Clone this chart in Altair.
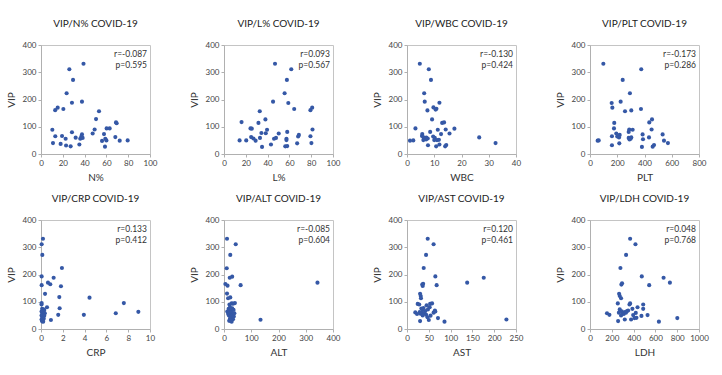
import altair as alt
import pandas as pd

BLUE = "#3558a6"
FONT = "Lato"

# ---- data (x value, VIP) ----
n_pct = [39, 26, 29.4, 23.5, 28.4, 37.6, 13, 15.3, 20.5, 53.2, 50.5, 68.8, 69.4, 10.4, 49.2, 60.2, 63, 47.4, 28.4, 37.6,
         37, 57.8, 13.1, 19.3, 22.6, 31.8, 36, 38.2, 56, 59, 60, 68.2, 72.2, 79.5, 11, 18, 23, 27.2, 35.2, 58.7]
n_vip = [331, 311, 272, 223, 188, 192, 161, 170, 165, 157, 128, 116, 113, 89, 90, 94, 94, 75, 80, 72,
         64, 73, 65, 66, 56, 60, 56, 59, 48, 56, 50, 62, 49, 50, 40, 37, 31, 28, 35, 27]

l_pct = [46.8, 61.7, 57.7, 55.6, 45, 59, 80.9, 64.4, 79.3, 32.8, 38, 16.1, 31.6, 24.3, 25.5, 81.2, 39.5, 58, 34.3, 38.3,
         50.2, 24.9, 14.3, 20.4, 27, 29, 33, 45.9, 47.7, 57.3, 57.3, 68, 68.7, 79.3, 34.9, 43.1, 56.2, 58, 67.1, 80.2]
l_vip = [331, 311, 272, 223, 192, 187, 170, 165, 161, 157, 127, 117, 114, 94, 93, 90, 89, 81, 77, 76,
         75, 62, 50, 50, 57, 49, 59, 56, 59, 56, 51, 64, 70, 65, 26, 35, 28, 29, 39, 40]

wbc = [4.7, 8.0, 8.8, 6.3, 6.5, 11.9, 9.7, 10.8, 10.5, 7.5, 9.2, 12.9, 13.6, 3.1, 17.4, 14.2, 11.3, 8.5, 5.6, 15.6,
       5.5, 6.1, 7.1, 7.6, 9.6, 10.2, 6.5, 7.0, 6.0, 10.0, 11.0, 11.7, 1.1, 2.3, 26.5, 32.5, 7.7, 10.7, 11.9, 14.0, 14.4, 12.5]
wbc_vip = [331, 311, 272, 223, 192, 188, 171, 166, 163, 160, 127, 114, 116, 94, 93, 90, 89, 81, 73, 75,
           66, 61, 60, 57, 64, 59, 57, 53, 51, 51, 51, 52, 49, 50, 61, 40, 32, 28, 35, 28, 33, 73]

plt_ = [98, 376, 240, 293, 159, 225, 164, 374, 257, 303, 455, 435, 178, 176, 288, 452, 313, 284, 193, 386,
        533, 218, 213, 161, 200, 284, 298, 303, 433, 389, 56, 64, 543, 572, 161, 215, 381, 460, 470, 290]
plt_vip = [331, 311, 272, 223, 187, 192, 170, 165, 157, 160, 127, 116, 114, 94, 90, 90, 89, 81, 75, 72,
           72, 70, 61, 65, 64, 59, 56, 61, 61, 54, 49, 50, 49, 40, 32, 39, 26, 27, 33, 53]

crp = [0.18, 0.06, 0.12, 1.92, 0.06, 1.16, 0.64, 0.85, 0.06, 1.83, 0.37, 1.68, 4.45, 0.06, 7.6, 1.71, 0.55, 1.58, 3.93,
       6.86, 8.93, 0.91, 0.05, 0.1, 0.2, 0.3, 0.15, 0.05, 0.25, 0.1, 0.35, 0.2, 0.05, 0.15, 0.3, 0.1, 0.25, 0.05, 0.15,
       0.1, 0.2]
crp_vip = [331, 311, 272, 224, 193, 188, 170, 164, 161, 157, 129, 117, 115, 95, 95, 76, 80, 52, 52,
           58, 63, 33, 90, 74, 72, 70, 66, 64, 62, 60, 58, 56, 50, 50, 49, 40, 38, 35, 30,
           28, 27]

alt_ = [11, 43, 23, 10, 30, 21, 5, 13, 61, 11, 23, 15, 343, 134, 28, 33, 20, 22, 30, 17,
        25, 35, 12, 20, 27, 38, 15, 23, 32, 18, 26, 36, 30, 22, 33, 19, 28, 25, 40]
alt_vip = [331, 311, 272, 223, 192, 188, 165, 159, 161, 130, 116, 113, 170, 34, 94, 93, 90, 80, 76, 74,
           72, 70, 64, 62, 60, 58, 56, 55, 50, 50, 48, 46, 40, 38, 36, 30, 27, 31, 95]

ast = [47.5, 61, 43.7, 38.3, 65, 176, 138, 68, 35, 36, 37, 30, 31.5, 32, 24.5, 28, 53, 57.5, 45, 38,
       19, 23, 64, 61, 65, 47, 54, 71, 30, 50, 86, 228, 33, 36, 42, 48, 52, 34, 40, 31, 44, 36, 29]
ast_vip = [331, 311, 272, 224, 193, 188, 170, 161, 163, 158, 166, 129, 121, 113, 92, 90, 92, 94, 87, 77,
           61, 55, 68, 60, 64, 43, 49, 40, 29, 33, 27, 35, 75, 70, 66, 72, 80, 60, 58, 56, 52, 50, 62]

ldh = [368, 417, 331, 279, 475, 675, 733, 543, 288, 294, 267, 273, 285, 255, 368, 362, 488, 488, 436, 156,
       178, 389, 273, 291, 420, 396, 472, 528, 632, 801, 258, 319, 408, 426, 377, 265, 300, 320, 340, 310, 285, 350, 330]
ldh_vip = [331, 311, 272, 224, 193, 188, 170, 161, 163, 168, 129, 121, 113, 94, 94, 90, 90, 74, 80, 58,
           52, 74, 72, 65, 59, 51, 48, 51, 27, 40, 29, 35, 40, 41, 35, 60, 58, 62, 66, 55, 50, 68, 60]

names = ["N%", "L%", "WBC", "PLT", "CRP", "ALT", "AST", "LDH"]
x_lists = [n_pct, l_pct, wbc, plt_, crp, alt_, ast, ldh]
vip_lists = [n_vip, l_vip, wbc_vip, plt_vip, crp_vip, alt_vip, ast_vip, ldh_vip]
x_max = [100, 100, 40, 800, 10, 400, 250, 1000]
x_step = [20, 20, 10, 200, 2, 100, 50, 200]
r_vals = ["-0.087", "0.093", "-0.130", "-0.173", "0.133", "-0.085", "0.120", "0.048"]
p_vals = ["0.595", "0.567", "0.424", "0.286", "0.412", "0.604", "0.461", "0.768"]
vip_ticks = [0, 100, 200, 300, 400]

W = 109
H = 109


def panel(i):
    df = pd.DataFrame({"x": x_lists[i], "VIP": vip_lists[i]})
    ticks = list(range(0, x_max[i] + 1, x_step[i]))
    pts = alt.Chart(df).mark_circle(size=17, color=BLUE, opacity=1).encode(
        x=alt.X("x:Q", scale=alt.Scale(domain=[0, x_max[i]], nice=False),
                axis=alt.Axis(values=ticks, title=names[i], labelFlush=False, grid=False,
                              format="d", titlePadding=5)),
        y=alt.Y("VIP:Q", scale=alt.Scale(domain=[0, 400], nice=False),
                axis=alt.Axis(values=vip_ticks, title="VIP", grid=False, format="d",
                              titlePadding=6)),
    )
    t1 = alt.Chart(pd.DataFrame({"t": ["r=" + r_vals[i]]})).mark_text(
        align="right", baseline="middle", fontSize=8.5, font=FONT, color="#333"
    ).encode(text="t:N", x=alt.value(W - 3), y=alt.value(9))
    t2 = alt.Chart(pd.DataFrame({"t": ["p=" + p_vals[i]]})).mark_text(
        align="right", baseline="middle", fontSize=8.5, font=FONT, color="#333"
    ).encode(text="t:N", x=alt.value(W - 3), y=alt.value(20))
    return alt.layer(pts, t1, t2).properties(
        width=W, height=H, title="VIP/" + names[i] + " COVID-19"
    )


chart = alt.concat(
    *[panel(i) for i in range(8)],
    columns=4,
    spacing=alt.RowColnumber(row=66, column=74),
    bounds="flush",
).properties(
    padding={"left": 5, "top": 18, "right": 5, "bottom": 5},
    background="white",
).configure_view(
    stroke="#c4c4c4", strokeWidth=1
).configure_axis(
    domainColor="#b0b0b0", tickColor="#b0b0b0", tickSize=3,
    labelFont=FONT, labelFontSize=8, labelColor="#444", labelPadding=2,
    titleFont=FONT, titleFontSize=10, titleFontWeight="normal", titleColor="#333",
).configure_title(
    font=FONT, fontSize=10, fontWeight="normal", color="#222", offset=12, anchor="middle"
)

chart.save("out.html", embed_options={"renderer": "svg", "actions": False})
